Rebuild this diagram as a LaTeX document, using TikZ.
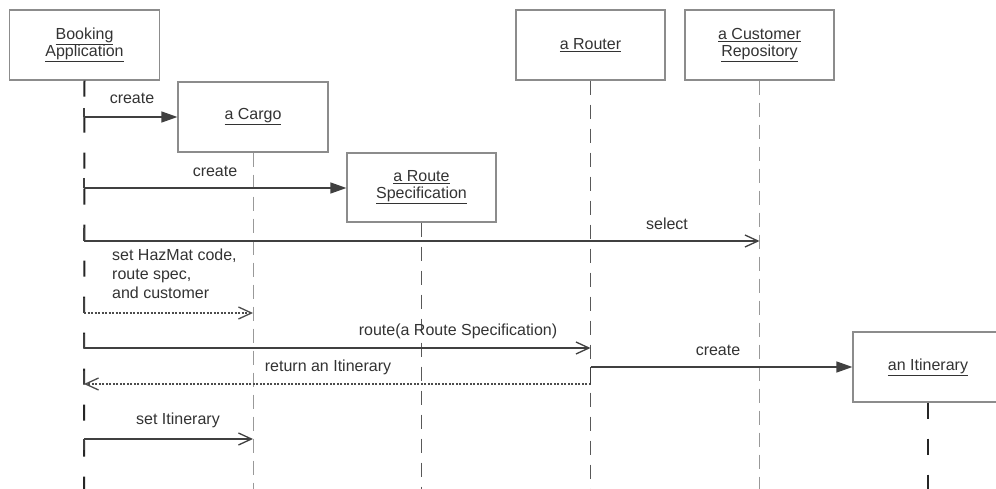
\documentclass[tikz,border=0pt]{standalone}
\usepackage{fontspec}
\setmainfont{Liberation Sans}
\usetikzlibrary{arrows.meta}
\begin{document}
\begin{tikzpicture}[x=1pt,y=-1pt,
  font=\fontsize{16}{19}\selectfont,
  obj/.style={draw=black!45,line width=1.2pt,fill=white,minimum width=150pt,minimum height=70pt,inner sep=0pt,align=center,text=black!80},
  lifeA/.style={draw=black!85,line width=2pt,dash pattern=on 16pt off 20pt},
  lifeB/.style={draw=black!40,line width=1pt,dash pattern=on 14pt off 8pt},
  lifeC/.style={draw=black!65,line width=1.4pt,dash pattern=on 14pt off 10pt},
  msg/.style={draw=black!75,line width=1.3pt},
  ret/.style={draw=black!70,line width=1.2pt,dash pattern=on 2pt off 1.5pt},
  filled/.style={-{Triangle[length=16pt,width=11pt]}},
  openh/.style={-{Straight Barb[length=13pt,width=12pt,line width=1.3pt]}},
  lbl/.style={text=black!80,inner sep=0pt}]
\useasboundingbox (0,0) rectangle (996,489);
\fill[white] (0,0) rectangle (996,489);
% objects
\node[obj] (ba) at (84.5,45) {\underline{Booking}\\[-2pt]\underline{Application}};
\node[obj] (cargo) at (253,117) {\underline{a Cargo}};
\node[obj,minimum width=149pt,minimum height=69pt] (rs) at (421.5,187.5) {\underline{a Route}\\[-2pt]\underline{Specification}};
\node[obj,minimum width=149pt] (router) at (590.5,45) {\underline{a Router}};
\node[obj,minimum width=149pt] (cr) at (759.5,45) {\underline{a Customer}\\[-2pt]\underline{Repository}};
\node[obj] (itin) at (928,367) {\underline{an Itinerary}};
% lifeline ends
\coordinate (baE) at (84,489);
\coordinate (cargoE) at (253,489);
\coordinate (rsE) at (421.5,489);
\coordinate (routerE) at (590.5,489);
\coordinate (crE) at (759.5,489);
\coordinate (itinE) at (928,489);
% lifelines
\draw[lifeA] (ba.south) -- (baE);
\draw[lifeB] (cargo.south) -- (cargoE);
\draw[lifeC] (rs.south) -- (rsE);
\draw[lifeC] (router.south) -- (routerE);
\draw[lifeB] (cr.south) -- (crE);
\draw[lifeA] (itin.south) -- (itinE);
% message points
\coordinate (m1) at (84,117);
\coordinate (m2) at (84,188);
\coordinate (m3) at (84,241);
\coordinate (m3e) at (759.5,241);
\coordinate (m4) at (84,313);
\coordinate (m4e) at (253,313);
\coordinate (m5) at (84,348);
\coordinate (m5e) at (590.5,348);
\coordinate (m6) at (590.5,384);
\coordinate (m6e) at (84,384);
\coordinate (m7) at (590.5,367);
\coordinate (m8) at (84,439);
\coordinate (m8e) at (253,439);
% vertical joins on the application lifeline
\draw[msg] (84,108) -- (m1);
\draw[msg] (84,178) -- (m2);
\draw[msg] (84,228) -- (m3);
\draw[msg] (84,298) -- (m4);
\draw[msg] (84,334) -- (m5);
\draw[msg] (84,371) -- (m6e);
\draw[msg] (84,450) -- (m8);
% messages
\draw[msg,filled] (m1) -- (m1 -| cargo.west);
\node[lbl] at (132,98) {create};
\draw[msg,filled] (m2) -- (m2 -| rs.west);
\node[lbl] at (215,171) {create};
\draw[msg,openh] (m3) -- (m3e);
\node[lbl] at (667,224) {select};
\draw[ret,openh] (m4) -- (m4e);
\node[lbl,align=left,anchor=north west] at (112,249) {set HazMat code,\\route spec,\\and customer};
\draw[msg,openh] (m5) -- (m5e);
\node[lbl] at (458,331) {route(a Route Specification)};
\draw[ret,openh] (m6) -- (m6e);
\node[lbl] at (328,367) {return an Itinerary};
\draw[msg] (m6) -- (m7);
\draw[msg,filled] (m7) -- (m7 -| itin.west);
\node[lbl] at (718,350) {create};
\draw[msg,openh] (m8) -- (m8e);
\node[lbl] at (178,420) {set Itinerary};
\end{tikzpicture}
\end{document}
